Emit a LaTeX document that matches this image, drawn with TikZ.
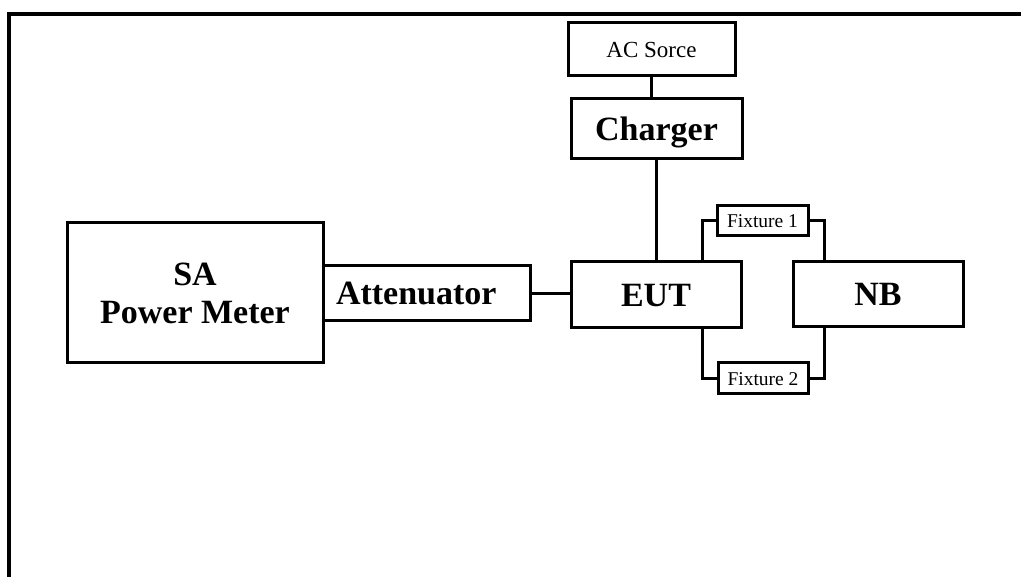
\documentclass[tikz,border=0pt]{standalone}
\usepackage{fontspec}
\setmainfont{Liberation Serif}
\begin{document}
\begin{tikzpicture}[x=1pt,y=-1pt,
  box/.style={draw, line width=3pt, rectangle, inner sep=0pt, outer sep=0pt, align=center, fill=white},
  big/.style={font=\fontsize{34}{38}\selectfont\bfseries, text height=23pt, text depth=0pt},
  mid/.style={font=\fontsize{23}{26}\selectfont, text height=16pt, text depth=0pt},
  small/.style={font=\fontsize{19.5}{22}\selectfont, text height=13.5pt, text depth=0pt},
  wire/.style={line width=3pt},
  frameline/.style={line width=3.5pt}]
\useasboundingbox (0,0) rectangle (1021,577);
% outer frame
\draw[frameline] (9,580) -- (9,14) -- (1025,14);
% nodes
\node[box, mid, minimum width=167pt, minimum height=53pt] (ac) at (651.5,49.5) {AC Sorce};
\node[box, big, minimum width=171pt, minimum height=60pt] (charger) at (656.5,129) {Charger};
\node[box, big, minimum width=170pt, minimum height=66pt] (eut) at (656,295) {EUT};
\node[box, big, minimum width=170pt, minimum height=65pt] (nb) at (878,294.5) {NB};
\node[box, small, minimum width=91pt, minimum height=30pt] (fx1) at (762.5,221) {Fixture 1};
\node[box, small, minimum width=90pt, minimum height=31pt] (fx2) at (763,378.5) {Fixture 2};
\node[box, font=\fontsize{34}{38}\selectfont\bfseries, minimum width=256pt, minimum height=140pt] (sa) at (195,293) {SA\\Power Meter};
\node[box, big, align=left, text width=181pt, minimum width=207pt, minimum height=55pt, anchor=west] (att) at (sa.east |- 0,293.5) {Attenuator};
% connectors
\draw[wire] (ac.south) -- (ac.south |- charger.north);
\draw[wire] (charger.south) -- (charger.south |- eut.north);
\draw[wire] (att.east) -- (att.east -| eut.west);
\draw[wire] (fx1.west) -| ([xshift=46pt]eut.north);
\draw[wire] (fx1.east) -| ([xshift=-54pt]nb.north);
\draw[wire] (fx2.west) -| ([xshift=46pt]eut.south);
\draw[wire] (fx2.east) -| ([xshift=-54pt]nb.south);
\end{tikzpicture}
\end{document}
